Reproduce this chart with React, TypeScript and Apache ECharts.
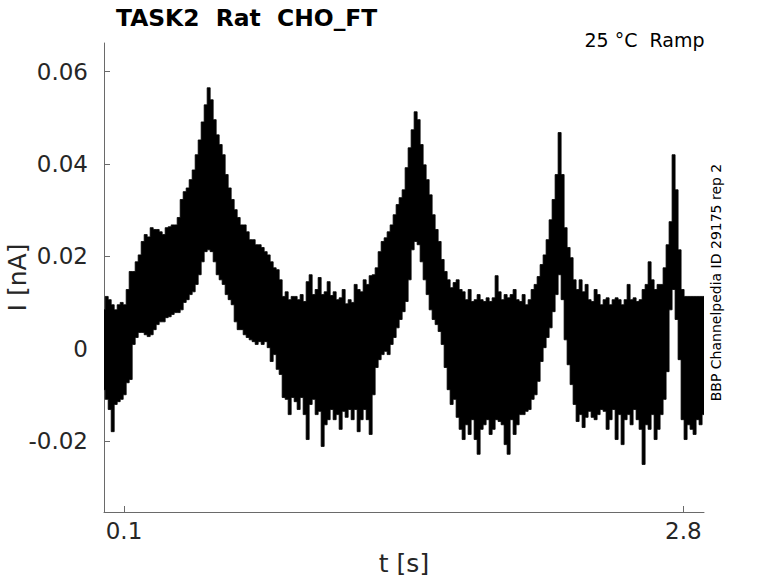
import React, { useEffect, useRef } from "react";
import * as echarts from "echarts";

const TITLE = "TASK2  Rat  CHO_FT";
const CONDITION = "25 °C  Ramp";
const SIDE_NOTE = "BBP Channelpedia ID 29175 rep 2";
const X_NAME = "t [s]";
const Y_NAME = "I [nA]";
const X_TICKS = [0.1, 2.8];
const Y_TICKS = [-0.02, 0, 0.02, 0.04, 0.06];

// sampling grid of the envelope readings (seconds)
const SAMPLE_START_S = 0.002;
const SAMPLE_STEP_S = 0.01448;

// upper envelope of the overlaid current traces (nA)
const upperEnvelope = [
  0.0084, 0.0113, 0.0106, 0.0095, 0.0084, 0.0095, 0.01, 0.0095, 0.0128, 0.0167, 0.0167, 0.0188, 0.0203, 0.0232, 0.0247, 0.0242,
  0.0262, 0.0258, 0.0258, 0.0253, 0.0247, 0.0262, 0.0264, 0.0268, 0.0268, 0.0284, 0.0323, 0.034, 0.0348, 0.0366, 0.0387, 0.042,
  0.0452, 0.0491, 0.0528, 0.0565, 0.0539, 0.0496, 0.0463, 0.0442, 0.042, 0.0377, 0.0348, 0.0323, 0.0301, 0.0284, 0.0268, 0.0268,
  0.0253, 0.0236, 0.0236, 0.0225,
  0.0225, 0.0219, 0.021, 0.0203, 0.0188, 0.0175, 0.0171, 0.0149,
  0.0113, 0.0123, 0.0106, 0.0113, 0.0113, 0.0106, 0.0117, 0.0102, 0.0145, 0.016, 0.0117, 0.0128, 0.0154, 0.0117, 0.0123, 0.0145,
  0.0115, 0.0123, 0.0106, 0.011, 0.0128, 0.0097, 0.0106, 0.01, 0.0139, 0.0128, 0.0123, 0.0149, 0.0139, 0.0158,
  0.016, 0.0175, 0.021, 0.0232, 0.024, 0.0253, 0.0268, 0.029, 0.0312, 0.0327, 0.0344, 0.0392, 0.0435, 0.0474, 0.0513,
  0.0496, 0.0442, 0.0398, 0.0366, 0.0333, 0.029, 0.0258, 0.0232, 0.0193, 0.0167, 0.0149, 0.0132, 0.0143, 0.0149, 0.0128, 0.0123,
  0.0106, 0.0128, 0.0102, 0.0106, 0.0117, 0.0106, 0.0102, 0.011, 0.0102, 0.011, 0.0158, 0.0123, 0.0106, 0.0117, 0.011, 0.0117,
  0.0128, 0.0106, 0.0102, 0.0117, 0.0095, 0.0106, 0.0128, 0.0139, 0.0156, 0.0182, 0.0203, 0.0236, 0.0279, 0.0323, 0.0377, 0.0468,
  0.0377, 0.0262, 0.0219, 0.0197, 0.0149, 0.0128, 0.0149, 0.0123, 0.0139, 0.0106, 0.0102, 0.0128, 0.0117, 0.0095, 0.0106, 0.011,
  0.0095, 0.0106, 0.011, 0.0106, 0.0095, 0.0106, 0.0139, 0.0106, 0.011, 0.0102, 0.0106, 0.0128, 0.0139, 0.0188, 0.0149, 0.0128,
  0.0139, 0.0139, 0.0175, 0.0225, 0.0275, 0.042, 0.0344, 0.0214, 0.0128, 0.0113, 0.0113, 0.0113, 0.0113, 0.0113, 0.0113, 0.0113,
];

// lower envelope of the overlaid current traces (nA)
const lowerEnvelope = [
  -0.0089, -0.011, -0.0132, -0.018, -0.0121, -0.0115, -0.011, -0.01, -0.0074, -0.0067, 0.0009, 0.0024, 0.0035, 0.0035, 0.003, 0.0026,
  0.003, 0.0041, 0.0052, 0.0058, 0.0058, 0.0067, 0.0069, 0.0074, 0.0078, 0.0078, 0.0084, 0.01, 0.0106, 0.0117, 0.0123, 0.0139,
  0.016, 0.0188, 0.021, 0.0214, 0.021, 0.0188, 0.016, 0.0149, 0.0139, 0.0117, 0.0106, 0.0095, 0.0058, 0.0041, 0.0041, 0.003,
  0.0024, 0.0019, 0.0015, 0.0009,
  0.0015, 0.0009, 0.0015, 0.0002, -0.0028, -0.0013, -0.0045, -0.0056,
  -0.0106, -0.011, -0.0143, -0.0106, -0.0115, -0.0132, -0.0106, -0.0143, -0.0197, -0.0121, -0.011, -0.0143, -0.0136, -0.0212, -0.0165, -0.0154,
  -0.0132, -0.0154, -0.0143, -0.0175, -0.0136, -0.0149, -0.0132, -0.0154, -0.0132, -0.018, -0.0154, -0.0132, -0.0154, -0.0186,
  -0.01, -0.0041, -0.0024, -0.0013, -0.0006, -0.0013, 0.0009, 0.0024, 0.0045, 0.0063, 0.008, 0.0102, 0.0149, 0.0214, 0.0232,
  0.0225, 0.0188, 0.0149, 0.0117, 0.0084, 0.0063, 0.0052, 0.0037, 0.0009, -0.0041, -0.0089, -0.0121, -0.011, -0.0149, -0.0175, -0.0197,
  -0.0165, -0.0186, -0.0154, -0.0197, -0.0229, -0.0175, -0.0165, -0.0154, -0.0186, -0.0175, -0.0154, -0.0158, -0.0165, -0.0208, -0.0229, -0.0154,
  -0.0186, -0.0165, -0.0143, -0.0143, -0.0136, -0.0132, -0.011, -0.01, -0.0071, -0.0028, 0.0002, 0.0024, 0.0045, 0.008, 0.0117, 0.016,
  0.0106, 0.0019, -0.0035, -0.0078, -0.0121, -0.0158, -0.0143, -0.0171, -0.0149, -0.0136, -0.0149, -0.0154, -0.0143, -0.0132, -0.0136, -0.0175,
  -0.0154, -0.0132, -0.0197, -0.0143, -0.0208, -0.0154, -0.0143, -0.0165, -0.0132, -0.0154, -0.0175, -0.0251, -0.0165, -0.0175, -0.0143, -0.0197,
  -0.0175, -0.0143, -0.011, -0.005, 0.0084, 0.0128, 0.0063, -0.0024, -0.0154, -0.0197, -0.0165, -0.0175, -0.0186, -0.0154, -0.0165, -0.0143,
];

const X_MIN = 0.0035;
const X_MAX = 2.9;
const Y_MIN = -0.0354;
const Y_MAX = 0.0662;

const FONT = "'DejaVu Sans', 'Liberation Sans', sans-serif";
const TEXT_DARK = "#262626";
const AXIS_GRAY = "#6a6a6a";

export default function App() {
  const ref = useRef<HTMLDivElement>(null);

  useEffect(() => {
    if (!ref.current) return;
    const chart = echarts.init(ref.current, undefined, { renderer: "svg" });

    const n = Math.min(upperEnvelope.length, lowerEnvelope.length);
    const rows: number[][] = [];
    for (let i = 0; i < n; i++) {
      rows.push([SAMPLE_START_S + i * SAMPLE_STEP_S, upperEnvelope[i], lowerEnvelope[i]]);
    }

    const option: any = {
      animation: false,
      backgroundColor: "#ffffff",
      textStyle: { fontFamily: FONT },
      grid: { left: 104, right: 74, top: 43, bottom: 71, containLabel: false, outerBoundsMode: "none" },
      xAxis: {
        type: "value",
        min: X_MIN,
        max: X_MAX,
        name: X_NAME,
        nameLocation: "middle",
        nameGap: 39,
        nameMoveOverlap: false,
        nameTextStyle: { fontSize: 25, color: TEXT_DARK, fontFamily: FONT },
        axisLine: { show: true, onZero: false, lineStyle: { color: AXIS_GRAY, width: 1 } },
        axisTick: { show: true, inside: true, length: 6, customValues: X_TICKS, lineStyle: { color: AXIS_GRAY, width: 1 } },
        axisLabel: {
          show: true,
          customValues: X_TICKS,
          margin: 7,
          fontSize: 23,
          color: TEXT_DARK,
          fontFamily: FONT,
          formatter: (v: number) => v.toFixed(1),
        },
        splitLine: { show: false },
      },
      yAxis: {
        type: "value",
        min: Y_MIN,
        max: Y_MAX,
        name: Y_NAME,
        nameLocation: "middle",
        nameGap: 74,
        nameMoveOverlap: false,
        nameTextStyle: { fontSize: 25, color: TEXT_DARK, fontFamily: FONT },
        axisLine: { show: true, onZero: false, lineStyle: { color: AXIS_GRAY, width: 1 } },
        axisTick: { show: true, inside: true, length: 6, customValues: Y_TICKS, lineStyle: { color: AXIS_GRAY, width: 1 } },
        axisLabel: {
          show: true,
          customValues: Y_TICKS,
          margin: 16,
          fontSize: 23,
          color: TEXT_DARK,
          fontFamily: FONT,
          formatter: (v: number) => (Math.abs(v) < 1e-9 ? "0" : v.toFixed(2)),
        },
        splitLine: { show: false },
      },
      graphic: [
        {
          type: "text",
          x: 116,
          y: 17.5,
          style: {
            text: TITLE,
            font: `bold 23.4px ${FONT}`,
            fill: "#000",
            textAlign: "left",
            textVerticalAlign: "middle",
          },
        },
        {
          type: "text",
          x: 704.5,
          y: 39.5,
          style: {
            text: CONDITION,
            font: `19px ${FONT}`,
            fill: "#000",
            textAlign: "right",
            textVerticalAlign: "middle",
          },
        },
        {
          type: "text",
          x: 715.5,
          y: 282.5,
          rotation: Math.PI / 2,
          style: {
            text: SIDE_NOTE,
            font: `14px ${FONT}`,
            fill: "#000",
            textAlign: "center",
            textVerticalAlign: "middle",
          },
        },
      ],
      series: [
        {
          type: "custom",
          coordinateSystem: "cartesian2d",
          data: rows,
          encode: { x: 0, y: [1, 2] },
          clip: true,
          renderItem: (params: any, api: any) => {
            if (params.dataIndexInside !== 0) return null;
            const len = params.dataInsideLength;
            const half = SAMPLE_STEP_S / 2;
            const top: number[][] = [];
            const bottom: number[][] = [];
            for (let j = 0; j < len; j++) {
              const t = api.value(0, j);
              const tl = Math.max(X_MIN, t - half);
              const tr = Math.min(X_MAX, t + half);
              const hi = api.value(1, j);
              const lo = api.value(2, j);
              top.push(api.coord([tl, hi]), api.coord([tr, hi]));
              bottom.push(api.coord([tl, lo]), api.coord([tr, lo]));
            }
            bottom.reverse();
            return {
              type: "polygon",
              shape: { points: top.concat(bottom) },
              style: { fill: "#000", stroke: "#000", lineWidth: 0.8 },
            };
          },
        },
      ],
    };

    chart.setOption(option);
    return () => chart.dispose();
  }, []);

  return (
    <div
      ref={ref}
      style={{ position: "fixed", left: 0, top: 0, width: 778, height: 583, background: "#fff" }}
    />
  );
}
